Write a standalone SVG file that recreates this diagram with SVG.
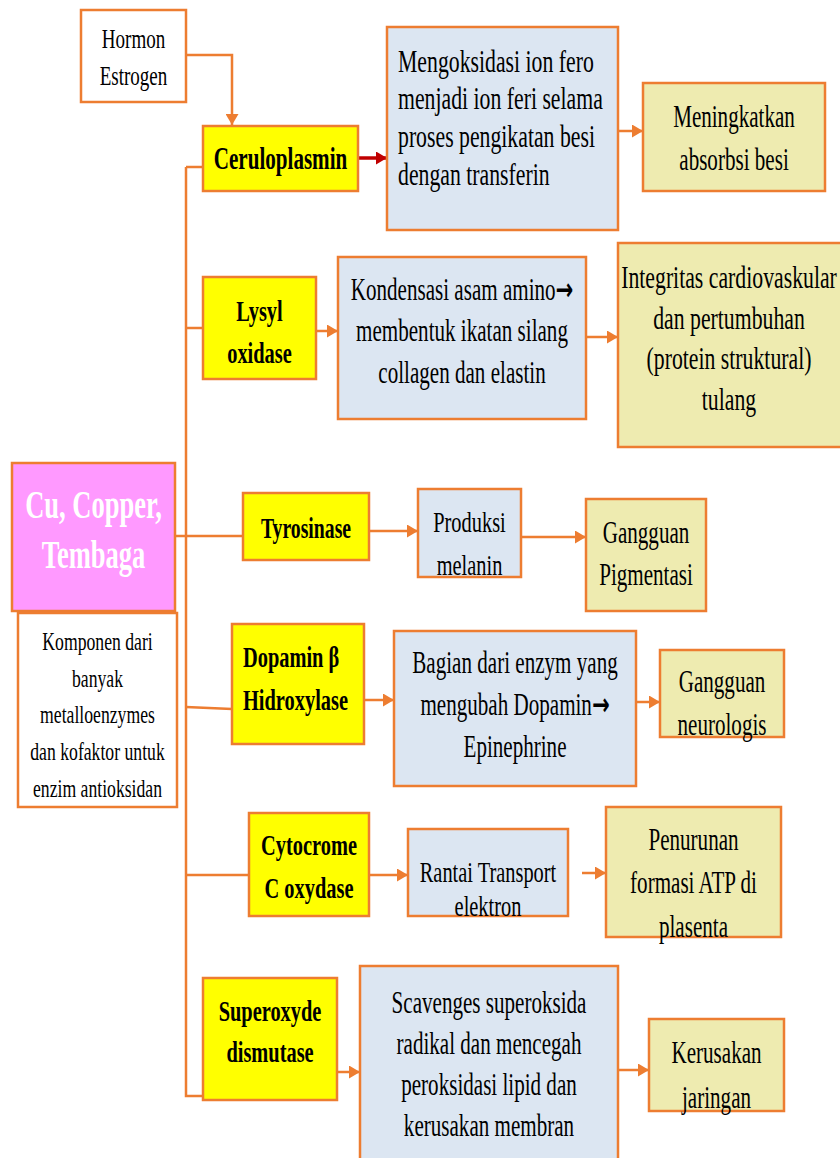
<svg xmlns="http://www.w3.org/2000/svg" width="840" height="1158" viewBox="0 0 840 1158">
<defs>
<style>
.box{stroke:#ED7D31;stroke-width:2.5}
.w{fill:#FFFFFF}
.y{fill:#FFFF00}
.b{fill:#DCE6F2}
.k{fill:#EEEBB0}
.p{fill:#FF99FF}
.r{font-family:"Liberation Serif","Times New Roman",serif;font-size:31px;fill:#000;text-anchor:middle}
.l{font-family:"Liberation Serif","Times New Roman",serif;font-size:32px;fill:#000;text-anchor:start}
.bd{font-family:"Liberation Serif","Times New Roman",serif;font-size:30px;font-weight:bold;fill:#000;text-anchor:middle}
.bl{font-family:"Liberation Serif","Times New Roman",serif;font-size:30px;font-weight:bold;fill:#000;text-anchor:start}
.cu{font-family:"Liberation Serif","Times New Roman",serif;font-size:39px;font-weight:bold;fill:#FFFFFF;text-anchor:middle}
.ar{font-family:"DejaVu Sans",sans-serif;font-weight:bold}
.c{fill:none;stroke:#ED7D31;stroke-width:2.5}
.ca{fill:none;stroke:#ED7D31;stroke-width:2.5;marker-end:url(#ah)}
.red{fill:none;stroke:#C00000;stroke-width:3.5;marker-end:url(#rh)}
</style>
<marker id="ah" markerUnits="userSpaceOnUse" markerWidth="11" markerHeight="13" refX="11" refY="6.5" orient="auto">
<path d="M0,0 L11,6.5 L0,13 z" fill="#ED7D31"/>
</marker>
<marker id="rh" markerUnits="userSpaceOnUse" markerWidth="11" markerHeight="13" refX="11" refY="6.5" orient="auto">
<path d="M0,0 L11,6.5 L0,13 z" fill="#C00000"/>
</marker>
</defs>
<rect width="840" height="1158" fill="#FFFFFF"/>

<g id="connectors">
<polyline class="c" points="186,167 186,1096 203,1096"/>
<line class="c" x1="186" y1="167" x2="203" y2="167"/>
<line class="c" x1="186" y1="328" x2="203" y2="328"/>
<line class="c" x1="175" y1="536" x2="243" y2="536"/>
<line class="c" x1="186" y1="707" x2="232" y2="709"/>
<line class="c" x1="186" y1="875" x2="249" y2="875"/>
<polyline class="ca" points="186,55 232,55 232,125"/>
<line class="red" x1="358" y1="158" x2="387" y2="158"/>
<line class="ca" x1="618" y1="131" x2="643" y2="131"/>
<line class="ca" x1="316" y1="331" x2="338" y2="331"/>
<line class="ca" x1="586" y1="337" x2="618" y2="337"/>
<line class="ca" x1="369" y1="531" x2="418" y2="531"/>
<line class="ca" x1="521" y1="537" x2="586" y2="537"/>
<line class="ca" x1="364" y1="700" x2="394" y2="700"/>
<line class="ca" x1="636" y1="702" x2="660" y2="702"/>
<line class="ca" x1="369" y1="875" x2="408" y2="875"/>
<line class="ca" x1="582" y1="873" x2="606" y2="873"/>
<line class="ca" x1="337" y1="1072" x2="360" y2="1072"/>
<line class="ca" x1="618" y1="1070" x2="649" y2="1070"/>
</g>

<g id="hormon">
<rect class="box w" x="81" y="10" width="105" height="92"/>
<text class="r" style="font-size:28px" transform="translate(133.5 0) scale(0.68 1)"><tspan x="0" y="48">Hormon</tspan><tspan x="0" y="85">Estrogen</tspan></text>
</g>

<g id="ceruloplasmin">
<rect class="box y" x="203" y="126" width="155" height="65"/>
<text class="bd" style="font-size:31px" transform="translate(280.5 0) scale(0.68 1)"><tspan x="0" y="169">Ceruloplasmin</tspan></text>
</g>

<g id="mengoksidasi">
<rect class="box b" x="387" y="27" width="231" height="203"/>
<text class="l" transform="translate(398 0) scale(0.68 1)"><tspan x="0" y="72">Mengoksidasi ion fero</tspan><tspan x="0" y="109">menjadi ion feri selama</tspan><tspan x="0" y="147">proses pengikatan besi</tspan><tspan x="0" y="185">dengan transferin</tspan></text>
</g>

<g id="meningkatkan">
<rect class="box k" x="643" y="83" width="182" height="108"/>
<text class="r" transform="translate(734 0) scale(0.68 1)"><tspan x="0" y="127">Meningkatkan</tspan><tspan x="0" y="170">absorbsi besi</tspan></text>
</g>

<g id="lysyl">
<rect class="box y" x="203" y="277" width="113" height="102"/>
<text class="bd" transform="translate(259.5 0) scale(0.68 1)"><tspan x="0" y="321">Lysyl</tspan><tspan x="0" y="363">oxidase</tspan></text>
</g>

<g id="kondensasi">
<rect class="box b" x="338" y="257" width="248" height="162"/>
<text class="r" transform="translate(462 0) scale(0.68 1)"><tspan x="0" y="300">Kondensasi asam amino<tspan class="ar">→</tspan></tspan><tspan x="0" y="341">membentuk ikatan silang</tspan><tspan x="0" y="383">collagen dan elastin</tspan></text>
</g>

<g id="integritas">
<rect class="box k" x="618" y="243" width="230" height="204"/>
<text class="r" style="font-size:32px" transform="translate(729 0) scale(0.68 1)"><tspan x="0" y="288">Integritas cardiovaskular</tspan><tspan x="0" y="329">dan pertumbuhan</tspan><tspan x="0" y="369">(protein struktural)</tspan><tspan x="0" y="410">tulang</tspan></text>
</g>

<g id="cu">
<rect class="box p" x="12" y="463" width="163" height="148"/>
<text class="cu" transform="translate(93.5 0) scale(0.68 1)"><tspan x="0" y="518">Cu, Copper,</tspan><tspan x="0" y="568">Tembaga</tspan></text>
</g>

<g id="komponen">
<rect class="box w" x="18" y="613" width="159" height="194"/>
<text class="r" style="font-size:26px" transform="translate(97.5 0) scale(0.68 1)"><tspan x="0" y="650">Komponen dari</tspan><tspan x="0" y="687">banyak</tspan><tspan x="0" y="723">metalloenzymes</tspan><tspan x="0" y="760">dan kofaktor untuk</tspan><tspan x="0" y="797">enzim antioksidan</tspan></text>
</g>

<g id="tyrosinase">
<rect class="box y" x="243" y="493" width="126" height="67"/>
<text class="bd" style="font-size:29px" transform="translate(306 0) scale(0.68 1)"><tspan x="0" y="538">Tyrosinase</tspan></text>
</g>

<g id="produksi">
<rect class="box b" x="418" y="489" width="103" height="88"/>
<text class="r" style="font-size:30px" transform="translate(469.5 0) scale(0.68 1)"><tspan x="0" y="532">Produksi</tspan><tspan x="0" y="575">melanin</tspan></text>
</g>

<g id="pigmentasi">
<rect class="box k" x="586" y="499" width="120" height="112"/>
<text class="r" transform="translate(646 0) scale(0.68 1)"><tspan x="0" y="543">Gangguan</tspan><tspan x="0" y="585">Pigmentasi</tspan></text>
</g>

<g id="dopamin">
<rect class="box y" x="232" y="624" width="132" height="120"/>
<text class="bl" transform="translate(243 0) scale(0.68 1)"><tspan x="0" y="667">Dopamin β</tspan><tspan x="0" y="710">Hidroxylase</tspan></text>
</g>

<g id="bagian">
<rect class="box b" x="394" y="631" width="242" height="155"/>
<text class="r" transform="translate(515 0) scale(0.68 1)"><tspan x="0" y="673">Bagian dari enzym yang</tspan><tspan x="0" y="715">mengubah Dopamin<tspan class="ar">→</tspan></tspan><tspan x="0" y="757">Epinephrine</tspan></text>
</g>

<g id="neurologis">
<rect class="box k" x="660" y="650" width="124" height="87"/>
<text class="r" transform="translate(722 0) scale(0.68 1)"><tspan x="0" y="692">Gangguan</tspan><tspan x="0" y="735">neurologis</tspan></text>
</g>

<g id="cytocrome">
<rect class="box y" x="249" y="813" width="120" height="103"/>
<text class="bd" transform="translate(309 0) scale(0.68 1)"><tspan x="0" y="855">Cytocrome</tspan><tspan x="0" y="898">C oxydase</tspan></text>
</g>

<g id="rantai">
<rect class="box b" x="408" y="829" width="160" height="87"/>
<text class="r" style="font-size:30px" transform="translate(488 0) scale(0.68 1)"><tspan x="0" y="882">Rantai Transport</tspan><tspan x="0" y="916">elektron</tspan></text>
</g>

<g id="penurunan">
<rect class="box k" x="606" y="807" width="175" height="130"/>
<text class="r" transform="translate(693.5 0) scale(0.68 1)"><tspan x="0" y="850">Penurunan</tspan><tspan x="0" y="893">formasi ATP di</tspan><tspan x="0" y="937">plasenta</tspan></text>
</g>

<g id="superoxyde">
<rect class="box y" x="203" y="978" width="134" height="122"/>
<text class="bd" transform="translate(270 0) scale(0.68 1)"><tspan x="0" y="1021">Superoxyde</tspan><tspan x="0" y="1062">dismutase</tspan></text>
</g>

<g id="scavenges">
<rect class="box b" x="360" y="966" width="258" height="200"/>
<text class="r" transform="translate(489 0) scale(0.68 1)"><tspan x="0" y="1013">Scavenges superoksida</tspan><tspan x="0" y="1054">radikal dan mencegah</tspan><tspan x="0" y="1095">peroksidasi lipid dan</tspan><tspan x="0" y="1136">kerusakan membran</tspan></text>
</g>

<g id="kerusakan">
<rect class="box k" x="649" y="1019" width="135" height="92"/>
<text class="r" transform="translate(716.5 0) scale(0.68 1)"><tspan x="0" y="1063">Kerusakan</tspan><tspan x="0" y="1108">jaringan</tspan></text>
</g>
</svg>
